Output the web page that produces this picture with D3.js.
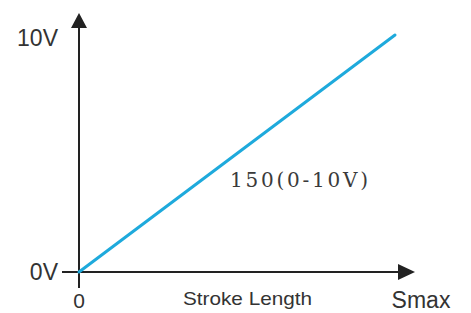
<!DOCTYPE html>
<html>
<head>
<meta charset="utf-8">
<script src="https://cdn.jsdelivr.net/npm/d3@7"></script>
<style>
  body { margin: 0; background: #fff; }
  svg { display: block; }
</style>
</head>
<body>
<script>
// data: stroke as fraction of Smax, output voltage
let stroke = [0, 1];
let volts = [0, 10];
let yTickValues = [0, 10];
let yTickLabels = ["0V", "10V"];
let xTickLabels = ["0", "Smax"];
let xTitle = "Stroke Length";
let lineLabel = "150(0-10V)";

let width = 471, height = 313;

let x = d3.scaleLinear().domain([0, 1]).range([79, 395]);
let y = d3.scaleLinear().domain([0, 10]).range([272, 35]);

let svg = d3.select("body").append("svg")
    .attr("width", width)
    .attr("height", height);

let axisColor = "#222";
let textColor = "#333";

    // y axis line (runs a bit below the x axis)
svg.append("line")
    .attr("x1", x(0)).attr("x2", x(0))
    .attr("y1", 288).attr("y2", 24)
    .attr("stroke", axisColor)
    .attr("stroke-width", 2);

    // y arrow head
svg.append("path")
    .attr("d", "M" + x(0) + ",13 L" + (x(0) + 8) + ",28 L" + (x(0) - 8) + ",28 Z")
    .attr("fill", axisColor);

    // x axis line (starts at the 0V tick)
svg.append("line")
    .attr("x1", 62).attr("x2", 400)
    .attr("y1", y(0)).attr("y2", y(0))
    .attr("stroke", axisColor)
    .attr("stroke-width", 2);

    // x arrow head
svg.append("path")
    .attr("d", "M415," + y(0) + " L398," + (y(0) - 8) + " L398," + (y(0) + 8) + " Z")
    .attr("fill", axisColor);

    // y tick labels
svg.selectAll(".ylab")
    .data(yTickValues)
    .enter().append("text")
    .attr("class", "ylab")
    .attr("x", 58)
    .attr("y", function(d, i) { return y(d) + (i == 0 ? 8 : 11); })
    .attr("text-anchor", "end")
    .style("font-family", "Liberation Sans, Arial, sans-serif")
    .style("font-size", "23px")
    .style("fill", textColor)
    .text(function(d, i) { return yTickLabels[i]; });

    // x tick labels
svg.selectAll(".xlab")
    .data(stroke)
    .enter().append("text")
    .attr("class", "xlab")
    .attr("x", function(d, i) { return i == 0 ? x(d) : 421; })
    .attr("y", 308)
    .attr("text-anchor", "middle")
    .style("font-family", "Liberation Sans, Arial, sans-serif")
    .style("font-size", function(d, i) { return i == 0 ? "21px" : "23px"; })
    .style("fill", textColor)
    .text(function(d, i) { return xTickLabels[i]; });

    // x title
svg.append("text")
    .attr("x", 183)
    .attr("y", 305)
    .attr("textLength", 129)
    .attr("lengthAdjust", "spacingAndGlyphs")
    .style("font-family", "Liberation Sans, Arial, sans-serif")
    .style("font-size", "19px")
    .style("fill", textColor)
    .text(xTitle);

    // the output line
let line = d3.line()
    .x(function(d) { return x(d[0]); })
    .y(function(d) { return y(d[1]); });

svg.append("path")
    .datum(d3.zip(stroke, volts))
    .attr("d", line)
    .attr("fill", "none")
    .attr("stroke", "#1eaadc")
    .attr("stroke-width", 3)
    .attr("stroke-linecap", "round");

    // line label
svg.append("text")
    .attr("x", 230)
    .attr("y", 187)
    .attr("textLength", 138)
    .attr("lengthAdjust", "spacing")
    .style("font-family", "DejaVu Serif, serif")
    .style("font-size", "20px")
    .style("fill", "#3a3a3a")
    .text(lineLabel);
</script>
</body>
</html>
